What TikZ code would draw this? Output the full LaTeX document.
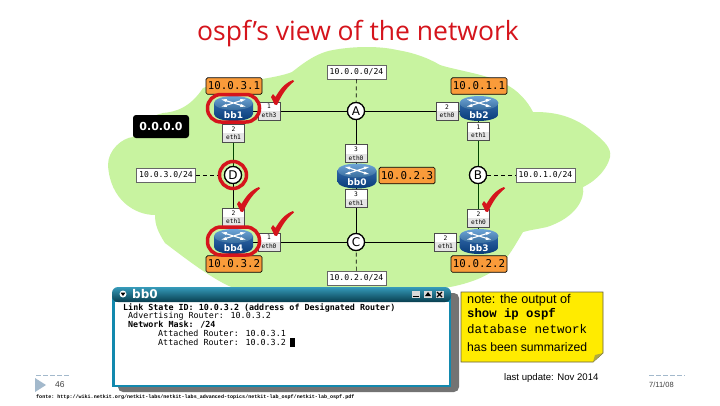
\documentclass[tikz,border=0pt]{standalone}
\usepackage{fontspec}
\setmainfont{Liberation Sans}
\setmonofont{Liberation Mono}
\newfontfamily\dv{DejaVu Sans}
\newfontfamily\dvm{DejaVu Sans Mono}
\newfontfamily\ttl{Open Sans}
\definecolor{cloudg}{HTML}{C8F3A0}
\definecolor{ora}{HTML}{F99B3A}
\definecolor{redr}{HTML}{D5141C}
\definecolor{rtop}{HTML}{4A8FCF}
\definecolor{rbot}{HTML}{0A4A96}
\definecolor{tbar}{HTML}{1289AE}
\definecolor{notey}{HTML}{FFEB00}
\definecolor{foot}{HTML}{A3B9CC}
\tikzset{
 x=1pt,y=-1pt,
 addr/.style={draw=black,fill=ora,rounded corners=1.5pt,line width=.7pt,minimum width=56pt,minimum height=16.5pt,inner sep=0pt,font=\dvm\fontsize{10.8}{10.8}\selectfont},
 net/.style={draw=black!60,fill=white,line width=.6pt,minimum width=59pt,minimum height=14pt,inner sep=0pt,font=\dvm\fontsize{8.1}{8.1}\selectfont},
 ifc/.style={draw=black!70,fill=white,line width=.5pt,minimum width=22pt,minimum height=18pt,inner sep=0pt,font=\dvm\fontsize{6.2}{8.5}\selectfont,align=center,
   path picture={\fill[black!10] (path picture bounding box.west) rectangle (path picture bounding box.south east);}},
 dr/.style={circle,draw=black,fill=white,line width=1.2pt,minimum size=17pt,inner sep=0pt,font=\dv\fontsize{12}{12}\selectfont},
 lnk/.style={black,line width=.9pt},
 lnkg/.style={black!55!green!60!black,line width=.9pt},
 dsh/.style={black,line width=.7pt,dash pattern=on 4pt off 3pt},
 ring/.style={draw=redr,line width=3.5pt,fill=none},
 chk/.style={fill=redr,draw=none},
}
\newcommand{\rtr}[3]{% name, position, label
 \begin{scope}[shift={(#2)}]
  \shade[top color=rbot!85!white,bottom color=rbot!80!black] (-19.5,-5.5) -- (-19.5,5.5) arc[start angle=180,end angle=0,x radius=19.5,y radius=7] -- (19.5,-5.5) -- cycle;
  \shade[top color=rtop!80!white,bottom color=rtop!75!black] (0,-5.5) ellipse[x radius=19.5,y radius=7];
  \draw[white,line width=1.1pt] (-8,-8) -- (8,-3) (8,-8) -- (-8,-3);
  \fill[white] (-12,-9) -- (-6.5,-9.5) -- (-7.5,-6.5) -- cycle (12,-2) -- (6.5,-1.5) -- (7.5,-4.5) -- cycle (12,-9) -- (6.5,-9.5) -- (7.5,-6.5) -- cycle (-12,-2) -- (-6.5,-1.5) -- (-7.5,-4.5) -- cycle;
  \node[white,inner sep=0pt,font=\dv\bfseries\fontsize{9}{9}\selectfont] (#1) at (0,6.5) {#3};
 \end{scope}}
\newcommand{\chkm}[1]{\fill[chk,shift={(#1)}] (-6,-1) -- (-4,-4) -- (-1.5,-1) .. controls (3,-9) and (8,-15) .. (16,-18) -- (17,-16.5) .. controls (10,-11) and (5,-4) .. (0,7) -- (-2.5,6.5) .. controls (-3.5,4) and (-5,1) .. (-6,-1) -- cycle;}
\begin{document}
\begin{tikzpicture}
\useasboundingbox (0,0) rectangle (720,405);
\fill[white] (0,0) rectangle (720,405);
\node[inner sep=0pt,text=redr,font=\ttl\fontsize{26.5}{26.5}\selectfont] (title) at (358,34) {ospf’s view of the network};
% cloud
\fill[cloudg] (333,50) .. controls (355,46) and (380,46) .. (397,50)
 .. controls (415,53) and (428,58) .. (440,65) .. controls (455,70) and (490,75) .. (505,84)
 .. controls (518,90) and (528,102) .. (533,112) .. controls (545,112) and (570,112) .. (593,132)
 .. controls (603,140) and (612,148) .. (610,157) .. controls (608,167) and (598,180) .. (583,187)
 .. controls (585,198) and (577,217) .. (547,227) .. controls (538,229) and (530,230) .. (523,232)
 .. controls (515,245) and (505,265) .. (490,273)
 .. controls (470,285) and (440,290) .. (420,290) -- (240,290)
 .. controls (220,285) and (190,262) .. (165,243) .. controls (158,232) and (155,225) .. (155,215)
 .. controls (135,215) and (110,200) .. (108,165) .. controls (108,150) and (122,138) .. (133,137)
 .. controls (135,125) and (150,116) .. (163,113) .. controls (175,112) and (190,108) .. (203,88)
 .. controls (220,82) and (240,82) .. (255,80) .. controls (270,78) and (285,75) .. (292,72)
 .. controls (300,66) and (315,53) .. (333,50) -- cycle;
% junctions
\node[dr] (A) at (356,111) {A};
\node[dr] (B) at (478,175) {B};
\node[dr] (C) at (356,242) {C};
\node[dr] (D) at (233,175) {D};
% nets
\node[net] (nA) at (356.5,72) {10.0.0.0/24};
\node[net] (nB) at (545.5,175) {10.0.1.0/24};
\node[net] (nC) at (356.5,278) {10.0.2.0/24};
\node[net] (nD) at (166,175) {10.0.3.0/24};
% routers anchors
\coordinate (r1) at (233,111); \coordinate (r2) at (478,111);
\coordinate (r3) at (478,242); \coordinate (r4) at (233,242);
\coordinate (r0) at (356,176);
% links
\draw[lnk] (r1) -- (A); \draw[lnk] (A) -- (r2);
\draw[lnk] (r4) -- (C); \draw[lnk] (C) -- (r3);
\draw[lnkg] (r1) -- (D); \draw[lnk] (D) -- (r4);
\draw[lnkg] (r2) -- (B); \draw[lnkg] (B) -- (r3);
\draw[lnk] (A) -- (r0); \draw[lnk] (r0) -- (C);
\draw[dsh] (nA) -- (A); \draw[dsh] (nC) -- (C);
\draw[dsh] (nD) -- (D); \draw[dsh] (B) -- (nB);
\node[dr] at (A) {A}; \node[dr] at (B) {B}; \node[dr] at (C) {C}; \node[dr] at (D) {D};
% interface labels
\node[ifc] (i1a) at (269,111) {1\\eth3};
\node[ifc] (i1b) at (233.5,133) {2\\eth1};
\node[ifc] (i2a) at (447,111) {2\\eth0};
\node[ifc] (i2b) at (478.5,131.5) {1\\eth1};
\node[ifc] (i0a) at (356,153.5) {3\\eth0};
\node[ifc] (i0b) at (356,198.5) {3\\eth1};
\node[ifc] (i3a) at (478.5,218) {2\\eth0};
\node[ifc] (i3b) at (445.5,242) {2\\eth1};
\node[ifc] (i4a) at (233.5,217) {2\\eth1};
\node[ifc] (i4b) at (269,242) {1\\eth0};
% routers
\rtr{bb1}{233.5,108.5}{bb1}
\rtr{bb2}{479,108.5}{bb2}
\rtr{bb0}{357,176}{bb0}
\rtr{bb3}{479,241.5}{bb3}
\rtr{bb4}{233.5,241.5}{bb4}
% addresses
\node[addr] (a1) at (234,86) {10.0.3.1};
\node[addr] (a2) at (479,86) {10.0.1.1};
\node[addr] (a0) at (407,175.5) {10.0.2.3};
\node[addr] (a3) at (479,264) {10.0.2.2};
\node[addr] (a4) at (234,264) {10.0.3.2};
% area
\node[fill=black,text=white,rounded corners=3pt,minimum width=56pt,minimum height=23pt,inner sep=0pt,font=\dv\bfseries\fontsize{11}{11}\selectfont] (area) at (161,126.5) {0.0.0.0};
% red rings
\draw[ring,rounded corners=13.5pt] (207.5,94.5) rectangle (259.5,122);
\draw[ring,rounded corners=13.5pt] (207.5,227) rectangle (259.5,255);
\draw[ring] (233,175) circle[radius=13.5];
\chkm{277,98}
\chkm{243,205}
\chkm{277,229}
\chkm{488,205}
% terminal
\fill[black!55,rounded corners=5pt] (118,293) rectangle (459,392);
\fill[tbar] (112,294) rectangle (451,387);
\fill[white] (114.5,302) rectangle (448.5,384.5);
\shade[top color=tbar!85!white,bottom color=tbar!45!black,rounded corners=6pt] (112,287) rectangle (451,302);
\node[circle,fill=white,minimum size=7pt,inner sep=0pt] (tb) at (123,294) {};
\fill[black] (120.5,292.5) -- (125.5,292.5) -- (123,296) -- cycle;
\node[white,anchor=west,inner sep=0pt,font=\dv\bfseries\fontsize{12}{12}\selectfont] (tt) at (132,294) {bb0};
\foreach \xx in {416,428,439.5}{\fill[black!15] (\xx-4,291) rectangle (\xx+4,298);}
\fill[black] (413,295.5) rectangle (419,297);
\fill[black] (425,296) -- (431,296) -- (428,292) -- cycle;
\draw[black,line width=1.2pt] (437,292) -- (442,297) (442,292) -- (437,297);
\begin{scope}[every node/.style={anchor=west,inner sep=0pt,font=\dvm\fontsize{8.37}{8.37}\selectfont}]
\node[font=\dvm\bfseries\fontsize{8.37}{8.37}\selectfont] (l1) at (123,308) {Link State ID: 10.0.3.2 (address of Designated Router)};
\node (l2) at (128,316.5) {Advertising Router: 10.0.3.2};
\node[font=\dvm\bfseries\fontsize{8.37}{8.37}\selectfont] (l3) at (128,325) {Network Mask: /24};
\node (l4) at (158,333.5) {Attached Router: 10.0.3.1};
\node (l5) at (158,342) {Attached Router: 10.0.3.2};
\end{scope}
\fill[black] (290,338) rectangle (295,347);
% note
\fill[notey] (461,292) -- (603,292) -- (603,353) -- (593,362) -- (461,362) -- cycle;
\draw[black!70!yellow,line width=.7pt] (461,292) -- (603,292) -- (603,353) -- (593,362) -- (461,362) -- cycle;
\fill[black!35!yellow] (603,353) -- (593,362) -- (595,355) -- cycle;
\begin{scope}[every node/.style={anchor=west,inner sep=0pt}]
\node[font=\fontsize{12.7}{12.7}\selectfont] (n1) at (467,300.5) {note: the output of};
\node[font=\ttfamily\bfseries\fontsize{12.3}{12.3}\selectfont] (n2) at (467,314.5) {show ip ospf};
\node[font=\ttfamily\fontsize{12.5}{12.5}\selectfont] (n3) at (467,329.5) {database network};
\node[font=\fontsize{12.2}{12.2}\selectfont] (n4) at (467,347.5) {has been summarized};
\end{scope}
\node[anchor=west,inner sep=0pt,font=\fontsize{9.6}{9.6}\selectfont] (upd) at (504,378) {last update: Nov 2014};
% footer
\draw[foot,line width=.7pt,dash pattern=on 5pt off 2pt] (36,375) -- (69,375);
\draw[foot,line width=.7pt,dash pattern=on 5pt off 2pt] (649,375) -- (685,375);
\fill[foot] (35,378) -- (46,385) -- (35,392) -- cycle;
\node[anchor=west,inner sep=0pt,font=\fontsize{8.5}{8.5}\selectfont,text=black!75] (pg) at (55,385) {46};
\node[anchor=west,inner sep=0pt,font=\fontsize{7.5}{7.5}\selectfont,text=black!75] (dt) at (649,385) {7/11/08};
\node[anchor=west,inner sep=0pt,font=\ttfamily\bfseries\fontsize{5.05}{5.05}\selectfont] (src) at (36,397) {fonte: http://wiki.netkit.org/netkit-labs/netkit-labs\_advanced-topics/netkit-lab\_ospf/netkit-lab\_ospf.pdf};
\end{tikzpicture}
\end{document}
